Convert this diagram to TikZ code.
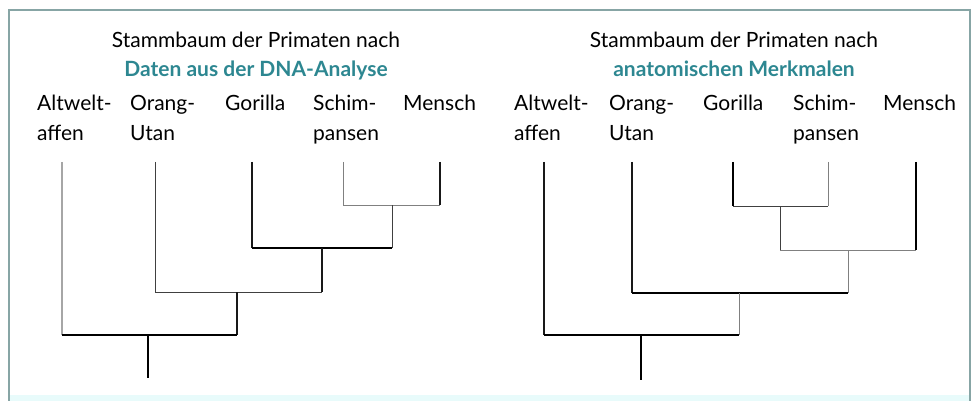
\documentclass[tikz,border=0pt]{standalone}
\usepackage{fontspec}
\setmainfont{Lato}
\definecolor{tealtxt}{RGB}{45,135,145}
\definecolor{framec}{RGB}{135,165,165}
\definecolor{bandc}{RGB}{232,251,251}
\begin{document}
\begin{tikzpicture}[x=1pt,y=-1pt,
  lbl/.style={anchor=base west,inner sep=0pt,font=\fontsize{21}{30}\selectfont},
  ttl/.style={anchor=base,inner sep=0pt,font=\fontsize{21}{30}\selectfont},
  ttlb/.style={anchor=base,inner sep=0pt,font=\fontsize{21}{30}\selectfont\bfseries,text=tealtxt},
  thick1/.style={draw=black,line width=1.8pt},
  med1/.style={draw=black!90,line width=1.3pt},
  thin1/.style={draw=black!75,line width=1pt},
  gray1/.style={draw=black!50,line width=1pt},
  lgray/.style={draw=black!35,line width=1.5pt}]
\useasboundingbox (0,0) rectangle (972,401);
\fill[bandc] (9,395) rectangle (971,401);
\draw[framec,line width=1.2pt] (9,401) -- (9,10) -- (970,10) -- (970,401);
% ---------------- left panel
\node[ttl] (t1) at (256,48) {Stammbaum der Primaten nach};
\node[ttlb] (t1b) at (256,77) {Daten aus der DNA-Analyse};
\node[lbl] (la) at (37,111) {\vtop{\hbox{Altwelt-}\hbox{affen}}};
\node[lbl] (lo) at (130,111) {\vtop{\hbox{Orang-}\hbox{Utan}}};
\node[lbl] (lg) at (225,111) {Gorilla};
\node[lbl] (ls) at (313,111) {\vtop{\hbox{Schim-}\hbox{pansen}}};
\node[lbl] (lm) at (403,111) {Mensch};
\coordinate (LA) at (62,162);
\coordinate (LO) at (155,162);
\coordinate (LG) at (252,162);
\coordinate (LS) at (343,162);
\coordinate (LM) at (440,162);
\coordinate (L1) at (392,205);
\coordinate (L2) at (322,248);
\coordinate (L3) at (237,292);
\coordinate (L4) at (148,335);
\coordinate (LR) at (148,378);
\draw[lgray] (LA) -- (LA |- L4);
\draw[thin1] (LO) -- (LO |- L3);
\draw[med1] (LG) -- (LG |- L2);
\draw[gray1] (LS) -- (LS |- L1);
\draw[med1] (LM) -- (LM |- L1);
\draw[gray1] (LS |- L1) -- (LM |- L1);
\draw[thin1] (L1) -- (L1 |- L2);
\draw[thick1] (LG |- L2) -- (L1 |- L2);
\draw[med1] (L2) -- (L2 |- L3);
\draw[thin1] (LO |- L3) -- (L2 |- L3);
\draw[med1] (L3) -- (L3 |- L4);
\draw[thick1] (LA |- L4) -- (L3 |- L4);
\draw[black,line width=2.2pt] (L4) -- (LR);
% ---------------- right panel
\node[ttl] (t2) at (734,48) {Stammbaum der Primaten nach};
\node[ttlb] (t2b) at (734,77) {anatomischen Merkmalen};
\node[lbl] (ra) at (514,111) {\vtop{\hbox{Altwelt-}\hbox{affen}}};
\node[lbl] (ro) at (609,111) {\vtop{\hbox{Orang-}\hbox{Utan}}};
\node[lbl] (rg) at (703,111) {Gorilla};
\node[lbl] (rs) at (793,111) {\vtop{\hbox{Schim-}\hbox{pansen}}};
\node[lbl] (rm) at (883,111) {Mensch};
\coordinate (RA) at (544,162);
\coordinate (RO) at (632,162);
\coordinate (RG) at (733,162);
\coordinate (RS) at (828,162);
\coordinate (RM) at (916,162);
\coordinate (R1) at (780,206);
\coordinate (R2) at (848,250);
\coordinate (R3) at (739,293);
\coordinate (R4) at (641,335);
\coordinate (RR) at (641,380);
\draw[med1] (RA) -- (RA |- R4);
\draw[med1] (RO) -- (RO |- R3);
\draw[thick1] (RG) -- (RG |- R1);
\draw[gray1] (RS) -- (RS |- R1);
\draw[thick1] (RM) -- (RM |- R2);
\draw[thin1] (RG |- R1) -- (RS |- R1);
\draw[thin1] (R1) -- (R1 |- R2);
\draw[gray1] (R1 |- R2) -- (RM |- R2);
\draw[gray1] (R2) -- (R2 |- R3);
\draw[thick1] (RO |- R3) -- (R2 |- R3);
\draw[gray1] (R3) -- (R3 |- R4);
\draw[thick1] (RA |- R4) -- (R3 |- R4);
\draw[black,line width=2.2pt] (R4) -- (RR);
\end{tikzpicture}
\end{document}
